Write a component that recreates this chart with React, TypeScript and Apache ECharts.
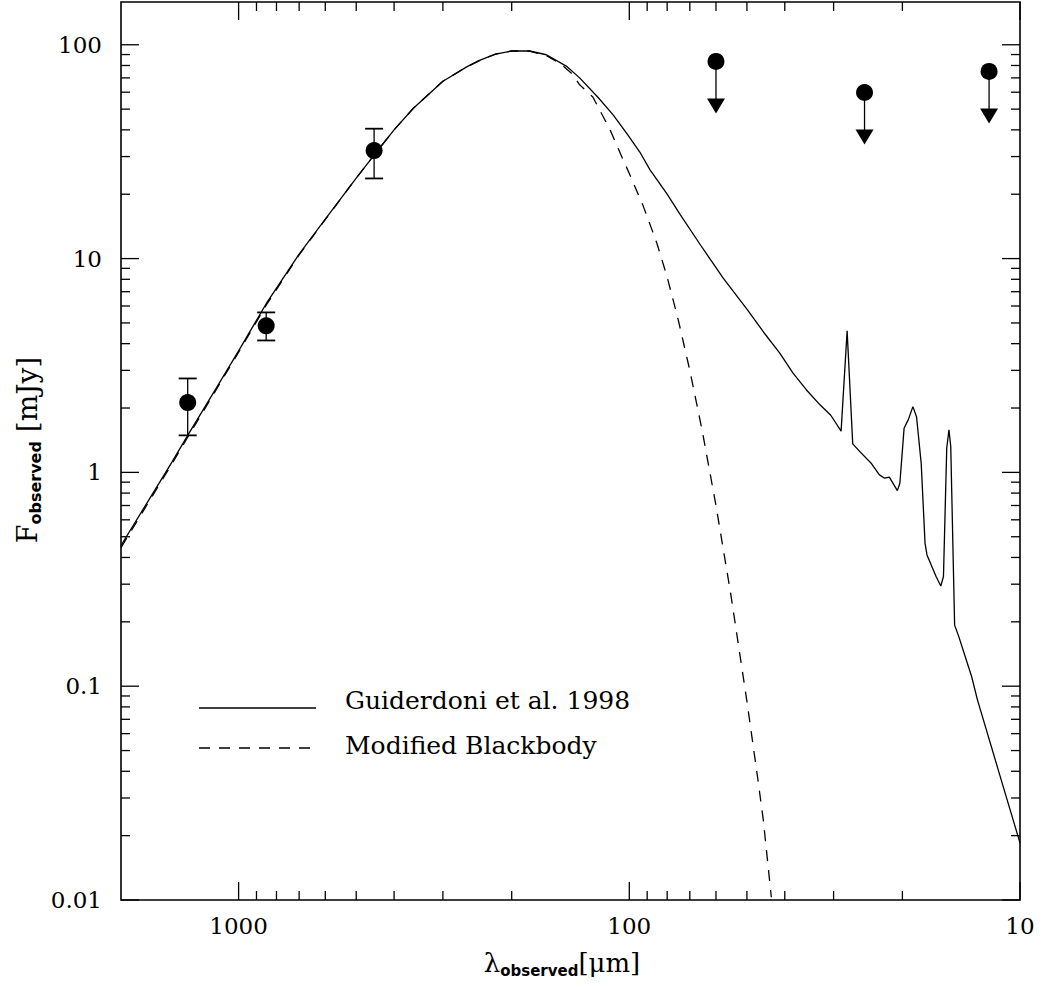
import React, { useEffect, useRef } from "react";
import * as echarts from "echarts";

// ---- data ----
const sedWavelength = [2000, 1700, 1480, 1350, 1150, 1000, 850, 700, 600, 500, 450, 400, 357, 300, 260, 240, 220, 200, 180, 163, 145, 134, 120, 110, 101, 94, 88.5, 80, 74, 66, 57.5, 50, 45, 41.2, 38.1, 35.2, 32.5, 30.5, 28.7, 27.7, 26.8, 25.7, 24, 22.9, 22.2, 21.6, 20.6, 20.3, 19.8, 19.3, 18.8, 18.4, 17.9, 17.5, 17.3, 16.4, 15.95, 15.7, 15.4, 15.2, 15.04, 14.7, 14.35, 13.3, 12.85, 11.27, 10];
const sedFlux = [0.455, 0.74, 1.12, 1.49, 2.42, 3.7, 6.15, 10.5, 15.3, 23.8, 30.5, 40, 50.5, 67.5, 79, 85, 90.5, 93.5, 93.5, 89.8, 79.5, 70, 56.5, 47, 38, 31.5, 26, 20, 16, 11.7, 8.1, 5.8, 4.45, 3.61, 2.91, 2.43, 2.07, 1.85, 1.56, 4.59, 1.36, 1.25, 1.1, 0.973, 0.939, 0.95, 0.822, 0.89, 1.61, 1.77, 2.03, 1.82, 1.1, 0.466, 0.411, 0.326, 0.294, 0.326, 1.3, 1.58, 1.32, 0.193, 0.171, 0.111, 0.0863, 0.0385, 0.0185];

const mbbWavelength = [2000, 1700, 1480, 1350, 1150, 1000, 850, 700, 600, 500, 450, 400, 357, 300, 260, 240, 220, 200, 180, 163, 150, 140, 134, 124, 112, 105, 100, 92, 85, 80, 75, 70, 65, 60, 55, 50, 47, 45.4, 43.3];
const mbbFlux = [0.445, 0.725, 1.1, 1.46, 2.38, 3.65, 6.05, 10.4, 15.2, 23.8, 30.5, 40, 50.5, 67.5, 79, 85, 90.5, 93.5, 93.5, 89, 81.5, 73, 65, 57, 40, 30.5, 25, 17.5, 11.8, 8.2, 5.2, 3.0, 1.55, 0.7, 0.27, 0.085, 0.038, 0.0237, 0.0103];

const detWavelength = [1350, 850, 450];
const detFlux = [2.12, 4.85, 32.0];
const detErrLow = [1.49, 4.14, 23.7];
const detErrHigh = [2.75, 5.6, 40.5];

const limWavelength = [60, 25, 12];
const limFlux = [83.6, 59.8, 75.0];

const xRange = [10, 2000];
const yRange = [0.01, 158.5];
const xMajorTicks = [10, 100, 1000];
const xTickLabels = ["10", "100", "1000"];
const xMinorTicks = [20, 30, 40, 50, 60, 70, 80, 90, 200, 300, 400, 500, 600, 700, 800, 900];
const yMajorTicks = [0.01, 0.1, 1, 10, 100];
const yTickLabels = ["0.01", "0.1", "1", "10", "100"];
const yMinorTicks = [0.02, 0.03, 0.04, 0.05, 0.06, 0.07, 0.08, 0.09, 0.2, 0.3, 0.4, 0.5, 0.6, 0.7, 0.8, 0.9, 2, 3, 4, 5, 6, 7, 8, 9, 20, 30, 40, 50, 60, 70, 80, 90];

const legendNames = ["Guiderdoni et al. 1998", "Modified Blackbody"];

const SERIF = "DejaVu Serif";
const SANS = "DejaVu Sans";

function labelFor(v: number, ticks: number[], labels: string[]) {
  for (let i = 0; i < ticks.length; i++) {
    if (Math.abs(Math.log10(v) - Math.log10(ticks[i])) < 1e-6) return labels[i];
  }
  return "";
}

function xTickSeries(values: number[], len: number) {
  return {
    type: "custom",
    silent: true,
    clip: false,
    z: 5,
    data: values.map((v) => [v, 1]),
    renderItem: (_p: any, api: any) => {
      const v = api.value(0);
      const b = api.coord([v, yRange[0]]);
      const t = api.coord([v, yRange[1]]);
      const st = { stroke: "#000", lineWidth: 1.3 };
      return {
        type: "group",
        children: [
          { type: "line", shape: { x1: b[0], y1: b[1], x2: b[0], y2: b[1] - len }, style: st },
          { type: "line", shape: { x1: t[0], y1: t[1], x2: t[0], y2: t[1] + len }, style: st },
        ],
      };
    },
  };
}

function yTickSeries(values: number[], len: number) {
  return {
    type: "custom",
    silent: true,
    clip: false,
    z: 5,
    data: values.map((v) => [100, v]),
    renderItem: (_p: any, api: any) => {
      const v = api.value(1);
      const l = api.coord([xRange[1], v]);
      const r = api.coord([xRange[0], v]);
      const st = { stroke: "#000", lineWidth: 1.3 };
      return {
        type: "group",
        children: [
          { type: "line", shape: { x1: l[0], y1: l[1], x2: l[0] + len, y2: l[1] }, style: st },
          { type: "line", shape: { x1: r[0], y1: r[1], x2: r[0] - len, y2: r[1] }, style: st },
        ],
      };
    },
  };
}

export default function App() {
  const ref = useRef<HTMLDivElement>(null);

  useEffect(() => {
    if (!ref.current) return;
    const chart = echarts.init(ref.current, null, { renderer: "svg" });

    const sedData = sedWavelength.map((w, i) => [w, sedFlux[i]]);
    const mbbData = mbbWavelength.map((w, i) => [w, mbbFlux[i]]);
    const detData = detWavelength.map((w, i) => [w, detFlux[i], detErrLow[i], detErrHigh[i]]);
    const limData = limWavelength.map((w, i) => [w, limFlux[i]]);

    const option: any = {
      animation: false,
      backgroundColor: "#fff",
      grid: {
        left: 121,
        right: 22,
        top: 2,
        bottom: 87,
        show: true,
        borderColor: "#000",
        borderWidth: 1.6,
        backgroundColor: "transparent",
      },
      xAxis: {
        type: "log",
        logBase: 10,
        min: xRange[0],
        max: xRange[1],
        inverse: true,
        axisLine: { show: false },
        axisTick: { show: false },
        minorTick: { show: false },
        splitLine: { show: false },
        axisLabel: {
          formatter: (v: number) => labelFor(v, xMajorTicks, xTickLabels),
          fontFamily: SERIF,
          fontSize: 23,
          color: "#000",
          margin: 14,
          showMinLabel: true,
          showMaxLabel: true,
        },
      },
      yAxis: {
        type: "log",
        logBase: 10,
        min: yRange[0],
        max: yRange[1],
        axisLine: { show: false },
        axisTick: { show: false },
        minorTick: { show: false },
        splitLine: { show: false },
        axisLabel: {
          formatter: (v: number) => labelFor(v, yMajorTicks, yTickLabels),
          fontFamily: SERIF,
          fontSize: 23,
          color: "#000",
          margin: 19,
          showMinLabel: true,
          showMaxLabel: true,
        },
      },
      series: [
        xTickSeries(xMajorTicks, 18),
        xTickSeries(xMinorTicks, 9),
        yTickSeries(yMajorTicks, 18),
        yTickSeries(yMinorTicks, 9),
        {
          name: legendNames[0],
          type: "line",
          data: sedData,
          showSymbol: false,
          symbol: "none",
          silent: true,
          lineStyle: { color: "#000", width: 1.3 },
          z: 3,
        },
        {
          name: legendNames[1],
          type: "line",
          data: mbbData,
          showSymbol: false,
          symbol: "none",
          silent: true,
          lineStyle: { color: "#000", width: 1.3, type: [11, 9] },
          z: 3,
        },
        {
          type: "custom",
          silent: true,
          z: 4,
          data: detData,
          renderItem: (_p: any, api: any) => {
            const x = api.value(0);
            const lo = api.coord([x, api.value(2)]);
            const hi = api.coord([x, api.value(3)]);
            const st = { stroke: "#000", lineWidth: 1.8 };
            return {
              type: "group",
              children: [
                { type: "line", shape: { x1: lo[0], y1: lo[1], x2: hi[0], y2: hi[1] }, style: { stroke: "#000", lineWidth: 1.3 } },
                { type: "line", shape: { x1: lo[0] - 9, y1: lo[1], x2: lo[0] + 9, y2: lo[1] }, style: st },
                { type: "line", shape: { x1: hi[0] - 9, y1: hi[1], x2: hi[0] + 9, y2: hi[1] }, style: st },
              ],
            };
          },
        },
        {
          type: "custom",
          silent: true,
          z: 4,
          data: limData,
          renderItem: (_p: any, api: any) => {
            const p = api.coord([api.value(0), api.value(1)]);
            return {
              type: "group",
              children: [
                { type: "line", shape: { x1: p[0], y1: p[1], x2: p[0], y2: p[1] + 38 }, style: { stroke: "#000", lineWidth: 1.3 } },
                {
                  type: "polygon",
                  shape: { points: [[p[0] - 9, p[1] + 37], [p[0] + 9, p[1] + 37], [p[0], p[1] + 52]] },
                  style: { fill: "#000" },
                },
              ],
            };
          },
        },
        {
          type: "scatter",
          silent: true,
          data: detData.map((d) => [d[0], d[1]]),
          symbol: "circle",
          symbolSize: 17,
          itemStyle: { color: "#000", opacity: 1 },
          z: 6,
        },
        {
          type: "scatter",
          silent: true,
          data: limData,
          symbol: "circle",
          symbolSize: 17,
          itemStyle: { color: "#000", opacity: 1 },
          z: 6,
        },
      ],
      graphic: [
        // legend
        { type: "line", shape: { x1: 199, y1: 708, x2: 316, y2: 708 }, style: { stroke: "#000", lineWidth: 1.3 } },
        { type: "line", shape: { x1: 199, y1: 748, x2: 316, y2: 748 }, style: { stroke: "#000", lineWidth: 1.3, lineDash: [11, 9] } },
        {
          type: "text",
          x: 345,
          y: 700,
          style: { text: legendNames[0], font: `25px "${SERIF}"`, fill: "#000", align: "left", verticalAlign: "middle" },
        },
        {
          type: "text",
          x: 345,
          y: 745,
          style: { text: legendNames[1], font: `25px "${SERIF}"`, fill: "#000", align: "left", verticalAlign: "middle" },
        },
        // x axis title
        {
          type: "text",
          x: 562,
          y: 963,
          style: {
            text: "{a|λ}{b|observed}{a|[μm]}",
            align: "center",
            verticalAlign: "middle",
            rich: {
              a: { fontFamily: SERIF, fontSize: 26, lineHeight: 30, fill: "#000", verticalAlign: "middle" },
              b: { fontFamily: SANS, fontSize: 15, fontWeight: "bold", lineHeight: 15, fill: "#000", verticalAlign: "bottom" },
            },
          },
        },
        // y axis title
        {
          type: "text",
          x: 27,
          y: 450,
          rotation: Math.PI / 2,
          style: {
            text: "{a|F}{b|observed}{c| [mJy]}",
            align: "center",
            verticalAlign: "middle",
            rich: {
              a: { fontFamily: SERIF, fontSize: 27, lineHeight: 32, fill: "#000", verticalAlign: "middle" },
              b: { fontFamily: SANS, fontSize: 16, fontWeight: "bold", lineHeight: 16, fill: "#000", verticalAlign: "bottom" },
              c: { fontFamily: SERIF, fontSize: 28, lineHeight: 32, fill: "#000", verticalAlign: "middle" },
            },
          },
        },
      ],
    };

    chart.setOption(option);
    return () => chart.dispose();
  }, []);

  return (
    <div
      ref={ref}
      style={{ position: "absolute", left: 0, top: 0, width: 1042, height: 987, background: "#fff" }}
    />
  );
}
